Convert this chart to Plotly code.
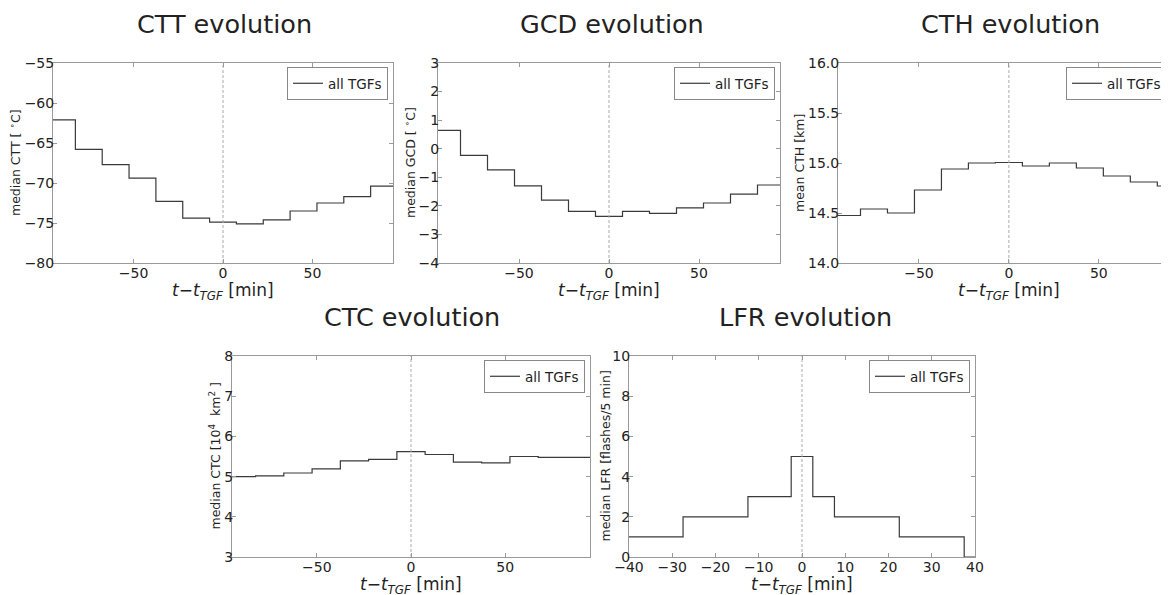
import plotly.graph_objects as go

# 15-min bins for cloud parameters, 5-min bins for lightning
bin_edges = [-97.5, -82.5, -67.5, -52.5, -37.5, -22.5, -7.5, 7.5, 22.5, 37.5, 52.5, 67.5, 82.5, 97.5]
ctt = [-62.1, -65.8, -67.7, -69.4, -72.3, -74.4, -74.9, -75.1, -74.6, -73.5, -72.5, -71.7, -70.4]
gcd = [0.64, -0.23, -0.74, -1.30, -1.80, -2.19, -2.37, -2.19, -2.26, -2.07, -1.90, -1.59, -1.27]
cth = [14.475, 14.54, 14.50, 14.73, 14.94, 15.0, 15.005, 14.97, 15.0, 14.95, 14.87, 14.81, 14.77]
ctc = [5.0, 5.02, 5.09, 5.19, 5.39, 5.43, 5.62, 5.55, 5.36, 5.34, 5.50, 5.48, 5.48]

lfr_edges = [-42.5, -37.5, -32.5, -27.5, -22.5, -17.5, -12.5, -7.5, -2.5, 2.5, 7.5, 12.5, 17.5, 22.5, 27.5, 32.5, 37.5, 42.5]
lfr = [1, 1, 1, 2, 2, 2, 3, 3, 5, 3, 2, 2, 2, 1, 1, 1, 0]

W, H = 1169, 595
OFF = 8  # page body margin; positions below are screen pixels
FONT = "DejaVu Sans"
AX = "#9a9a9a"
LINE = "#3a3a3a"
TXT = "#222"
XLAB = "<i>t</i>−<i>t</i><sub><i>TGF</i></sub> [min]"

# name, edges, values, ylabel, yrange, ytick, xrange, xtick, title, box (l, r, t, b), title x, ylabel x
panels = [
    ("CTT", bin_edges, ctt, "median CTT [ <sup>∘</sup>C]", [-80, -55], 5, [-95, 95], 50,
     "CTT evolution", (53, 393, 63, 263), 224, 15),
    ("GCD", bin_edges, gcd, "median GCD [ <sup>∘</sup>C]", [-4, 3], 1, [-95, 95], 50,
     "GCD evolution", (438, 780, 63, 263), 612, 410),
    ("CTH", bin_edges, cth, "mean CTH [km]", [14, 16], 0.5, [-95, 89], 50,
     "CTH evolution", (838, 1169, 63, 263), 1010, 800),
    ("CTC", bin_edges, ctc, "median CTC [10<sup>4</sup>  km<sup>2</sup> ]", [3, 8], 1, [-95, 95], 50,
     "CTC evolution", (232, 590, 356, 557), 412, 214),
    ("LFR", lfr_edges, lfr, "median LFR [flashes/5 min]", [0, 10], 2, [-40, 40], 10,
     "LFR evolution", (629, 975, 356, 557), 805, 605),
]


def px(x):
    return (x - OFF) / W


def py(y):
    return 1 - (y - OFF) / H


fig = go.Figure()
annotations = []
layout = {}

for i, (name, edges, vals, ylab, yr, ydt, xr, xdt, title, box, tx, lx) in enumerate(panels):
    n = "" if i == 0 else str(i + 1)
    l, r, t, b = box
    leg = "legend" + n
    fig.add_trace(go.Scatter(
        x=edges, y=list(vals) + [vals[-1]], mode="lines", line_shape="hv",
        line=dict(color=LINE, width=1.2), name="all TGFs",
        xaxis="x" + n, yaxis="y" + n, legend=leg, showlegend=True,
    ))
    # dashed line at t = t_TGF
    fig.add_trace(go.Scatter(
        x=[0, 0], y=yr, mode="lines", line=dict(color="#aaaaaa", width=1, dash="3px,2px"),
        xaxis="x" + n, yaxis="y" + n, showlegend=False, hoverinfo="skip",
    ))
    fmt = ".1f" if name == "CTH" else ""
    layout["xaxis" + n] = dict(
        domain=[px(l), min(px(r), 1.0)], anchor="y" + n, range=xr, dtick=xdt, tick0=0,
        showline=True, linecolor=AX, linewidth=1, mirror="ticks", ticks="inside",
        ticklen=4, tickcolor=AX, showgrid=False, zeroline=False, automargin=False,
        ticklabelstandoff=-3,
        tickfont=dict(family=FONT, size=14, color=TXT),
    )
    layout["yaxis" + n] = dict(
        domain=[py(b), py(t)], anchor="x" + n, range=yr, dtick=ydt, tick0=0,
        tickformat=fmt, showline=True, linecolor=AX, linewidth=1, mirror="ticks",
        ticks="inside", ticklen=4, tickcolor=AX, showgrid=False, zeroline=False,
        automargin=False, ticklabelstandoff=-5,
        tickfont=dict(family=FONT, size=14, color=TXT),
    )
    layout[leg] = dict(
        x=px(r - 5) if name != "CTH" else px(1167), y=py(t + 4),
        xanchor="right", yanchor="top", bgcolor="white",
        bordercolor="#888", borderwidth=1,
        font=dict(family=FONT, size=13.5, color=TXT),
        itemwidth=30, tracegroupgap=0,
    )
    annotations.append(dict(
        text=title, x=px(tx), y=py(t - 39), xref="paper", yref="paper",
        xanchor="center", yanchor="middle", showarrow=False,
        font=dict(family=FONT, size=25.5, color=TXT),
    ))
    # x-axis label, centred under the full panel width
    xc = (l + (1180 if name == "CTH" else r)) / 2
    annotations.append(dict(
        text=XLAB, x=px(xc), y=py(b + 28), xref="paper", yref="paper",
        xanchor="center", yanchor="middle", showarrow=False,
        font=dict(family=FONT, size=17, color=TXT),
    ))
    annotations.append(dict(
        text=ylab, x=px(lx), y=py((t + b) / 2), xref="paper", yref="paper",
        xanchor="center", yanchor="middle", showarrow=False, textangle=-90,
        font=dict(family=FONT, size=12.5, color=TXT),
    ))

fig.update_layout(
    width=W, height=H, margin=dict(l=0, r=0, t=0, b=0),
    paper_bgcolor="white", plot_bgcolor="white",
    annotations=annotations, **layout,
)

fig.write_html("out.html")
